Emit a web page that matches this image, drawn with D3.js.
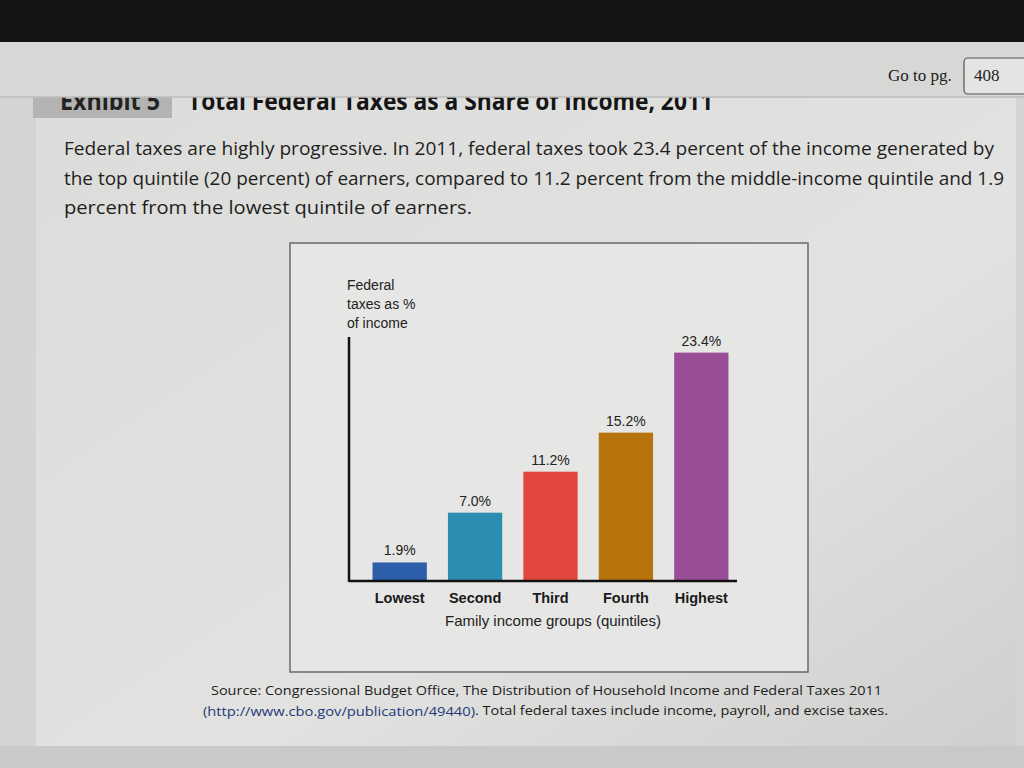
<!DOCTYPE html>
<html>
<head>
<meta charset="utf-8">
<script src="https://cdn.jsdelivr.net/npm/d3@7"></script>
<style>
html,body{margin:0;padding:0;background:#1a1a1a;}
svg{display:block;}
</style>
</head>
<body>
<svg id="c" width="1024" height="768"></svg>
<script>
const categories = ["Lowest", "Second", "Third", "Fourth", "Highest"];
const values = [1.9, 7.0, 11.2, 15.2, 23.4];
const valueLabels = ["1.9%", "7.0%", "11.2%", "15.2%", "23.4%"];
const barColors = ["#2c5ea9", "#2b8db0", "#e1473e", "#b7740c", "#9a4d97"];
const yAxisTitle = ["Federal", "taxes as %", "of income"];
const xAxisTitle = "Family income groups (quintiles)";
const paragraph = [
  "Federal taxes are highly progressive. In 2011, federal taxes took 23.4 percent of the income generated by",
  "the top quintile (20 percent) of earners, compared to 11.2 percent from the middle-income quintile and 1.9",
  "percent from the lowest quintile of earners."
];
const sourceLine1 = "Source: Congressional Budget Office, The Distribution of Household Income and Federal Taxes 2011";
const sourceUrl = "(http://www.cbo.gov/publication/49440)";
const sourceRest = ". Total federal taxes include income, payroll, and excise taxes.";

const svg = d3.select("#c");

// page backgrounds
const defs = svg.append("defs");
const g1 = defs.append("linearGradient").attr("id","pg").attr("x1","0").attr("y1","0").attr("x2","1").attr("y2","1");
g1.append("stop").attr("offset","0").attr("stop-color","#dcdcda");
g1.append("stop").attr("offset","0.6").attr("stop-color","#e2e2e0");
g1.append("stop").attr("offset","1").attr("stop-color","#cfcfcd");
svg.append("rect").attr("x",0).attr("y",0).attr("width",1024).attr("height",768).attr("fill","#d4d4d2");
svg.append("rect").attr("x",36).attr("y",95).attr("width",980).attr("height",655).attr("fill","url(#pg)");
svg.append("rect").attr("x",0).attr("y",746).attr("width",1024).attr("height",22).attr("fill","#c9c9c7");

// exhibit label box and title
svg.append("rect").attr("x",33).attr("y",88).attr("width",139).attr("height",30).attr("fill","#b3b3b1");
svg.append("text").attr("x",60).attr("y",110).attr("font-family","Open Sans, sans-serif").attr("font-weight","bold")
  .attr("font-size",25).attr("fill","#222").attr("textLength",100).attr("lengthAdjust","spacingAndGlyphs").text("Exhibit 5");
svg.append("text").attr("x",188).attr("y",110).attr("font-family","Open Sans, sans-serif").attr("font-weight","bold")
  .attr("font-size",25).attr("fill","#151515").attr("textLength",525).attr("lengthAdjust","spacingAndGlyphs")
  .text("Total Federal Taxes as a Share of Income, 2011");

// header overlay (covers top of title)
svg.append("rect").attr("x",0).attr("y",0).attr("width",1024).attr("height",42).attr("fill","#141414");
svg.append("rect").attr("x",0).attr("y",42).attr("width",1024).attr("height",55).attr("fill","#d7d7d5");
svg.append("line").attr("x1",0).attr("x2",1024).attr("y1",97).attr("y2",97).attr("stroke","#bdbdbb").attr("stroke-width",1.5);
svg.append("text").attr("x",888).attr("y",81).attr("font-family","Liberation Serif, serif").attr("font-size",17)
  .attr("fill","#222").text("Go to pg.");
svg.append("rect").attr("x",964).attr("y",58).attr("width",70).attr("height",36).attr("rx",4)
  .attr("fill","#e4e4e2").attr("stroke","#555").attr("stroke-width",1.2);
svg.append("text").attr("x",974).attr("y",81).attr("font-family","Liberation Serif, serif").attr("font-size",17)
  .attr("fill","#222").text("408");

// paragraph
const pWidths = [930, 940, 408];
paragraph.forEach((t,i)=>{
  svg.append("text").attr("x",64).attr("y",155 + i*29.5).attr("font-family","Open Sans, sans-serif")
    .attr("font-size",18.5).attr("fill","#1e1e1e")
    .attr("textLength",pWidths[i]).attr("lengthAdjust","spacingAndGlyphs").text(t);
});

// chart frame
svg.append("rect").attr("x",290).attr("y",243).attr("width",518).attr("height",429)
  .attr("fill","#e6e6e4").attr("stroke","#6a6a6a").attr("stroke-width",1.5);

const x = d3.scaleBand().domain(categories).range([365, 736]).paddingInner(0.28).paddingOuter(0.1);
const y = d3.scaleLinear().domain([0, 25]).range([581, 337]);

const g = svg.append("g");
g.selectAll("rect.bar").data(values).join("rect").attr("class","bar")
  .attr("x",(d,i)=>x(categories[i])).attr("width",x.bandwidth())
  .attr("y",d=>y(d)).attr("height",d=>y(0)-y(d))
  .attr("fill",(d,i)=>barColors[i]);

g.selectAll("text.vl").data(values).join("text").attr("class","vl")
  .attr("x",(d,i)=>x(categories[i])+x.bandwidth()/2).attr("y",d=>y(d)-7)
  .attr("text-anchor","middle").attr("font-family","Liberation Sans, Arial, sans-serif")
  .attr("font-size",14).attr("fill","#222").text((d,i)=>valueLabels[i]);

// axes
const xAxis = d3.axisBottom(x).tickSize(0).tickPadding(9);
const xg = svg.append("g").attr("transform",`translate(0,${y(0)})`).call(xAxis);
xg.select(".domain").attr("d",`M349,0H737`).attr("stroke","#111").attr("stroke-width",2.5);
xg.selectAll(".tick text").attr("font-family","Liberation Sans, Arial, sans-serif").attr("font-weight","bold")
  .attr("font-size",14.5).attr("fill","#1a1a1a").attr("dy","0.9em");

const yAxis = d3.axisLeft(y).tickValues([]).tickSize(0);
const yg = svg.append("g").attr("transform","translate(349,0)").call(yAxis);
yg.select(".domain").attr("d",`M0,${y(25)}V${y(0)+1}`).attr("stroke","#111").attr("stroke-width",2.5);

yAxisTitle.forEach((t,i)=>{
  svg.append("text").attr("x",347).attr("y",290+i*19).attr("font-family","Liberation Sans, Arial, sans-serif")
    .attr("font-size",14).attr("fill","#222").text(t);
});
svg.append("text").attr("x",553).attr("y",626).attr("text-anchor","middle")
  .attr("font-family","Liberation Sans, Arial, sans-serif").attr("font-size",15).attr("fill","#222").text(xAxisTitle);

// source
const src = svg.append("g");
src.append("text").attr("x",211).attr("y",695).attr("font-family","Open Sans, sans-serif").attr("font-size",13.5)
  .attr("fill","#1c1c1c").attr("textLength",671).attr("lengthAdjust","spacingAndGlyphs").text(sourceLine1);
src.append("text").attr("x",203).attr("y",716).attr("font-family","Open Sans, sans-serif").attr("font-size",13.5)
  .attr("fill","#1d3a78").attr("textLength",272).attr("lengthAdjust","spacingAndGlyphs").text(sourceUrl);
src.append("text").attr("x",475).attr("y",715).attr("font-family","Open Sans, sans-serif").attr("font-size",13.5)
  .attr("fill","#1c1c1c").attr("textLength",413).attr("lengthAdjust","spacingAndGlyphs").text(sourceRest);
</script>
</body>
</html>
